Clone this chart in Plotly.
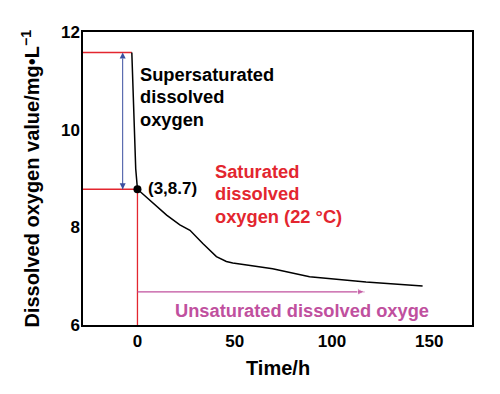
import plotly.graph_objects as go

# Data
time_h = [-2.9, -2.0, -1.5, -0.9, 0, 6.4, 15, 21.8, 27, 33.6, 40.6, 45.7, 49, 58, 69.5, 88.5, 117.5, 146.6]
do_val = [11.58, 10.5, 9.8, 9.2, 8.78, 8.56, 8.25, 8.05, 7.94, 7.67, 7.40, 7.30, 7.27, 7.22, 7.15, 6.99, 6.88, 6.80]
super_level = 11.58
sat_level = 8.78
sat_time = 0
x_range = [-28, 172]
y_range = [6, 12]
x_ticks = [0, 50, 100, 150]
y_ticks = [6, 8, 10, 12]
super_arrow_x = -7.6
unsat_arrow_y = 6.68
unsat_arrow_end = 116.7

FONT = "Liberation Sans, Arial, sans-serif"
RED = "#e3262f"
BLUE = "#3a4fa0"
MAG = "#c0509e"

fig = go.Figure()

# red reference lines
fig.add_trace(go.Scatter(x=[x_range[0], time_h[0]], y=[super_level, super_level], mode="lines",
                         line=dict(color=RED, width=1.3), hoverinfo="skip", showlegend=False))
fig.add_trace(go.Scatter(x=[x_range[0], sat_time], y=[sat_level, sat_level], mode="lines",
                         line=dict(color=RED, width=1.3), hoverinfo="skip", showlegend=False))
fig.add_trace(go.Scatter(x=[sat_time, sat_time], y=[sat_level, y_range[0]], mode="lines",
                         line=dict(color=RED, width=1.3), hoverinfo="skip", showlegend=False))

# blue double arrow
fig.add_trace(go.Scatter(x=[super_arrow_x, super_arrow_x], y=[sat_level, super_level], mode="lines+markers",
                         line=dict(color=BLUE, width=1),
                         marker=dict(symbol=["arrow-down", "arrow-up"], size=6, color=BLUE),
                         hoverinfo="skip", showlegend=False))
# magenta arrow
fig.add_trace(go.Scatter(x=[sat_time, unsat_arrow_end], y=[unsat_arrow_y, unsat_arrow_y], mode="lines+markers",
                         line=dict(color=MAG, width=1.2),
                         marker=dict(symbol=["arrow-right", "arrow-right"], size=[0, 7], color=MAG),
                         hoverinfo="skip", showlegend=False))

# curve
fig.add_trace(go.Scatter(x=time_h, y=do_val, mode="lines",
                         line=dict(color="black", width=1.5), showlegend=False))
# saturation point
fig.add_trace(go.Scatter(x=[sat_time], y=[sat_level], mode="markers",
                         marker=dict(color="black", size=8), showlegend=False))

def txt(x, y, s, color, size=18.3, anchor="left"):
    return dict(x=x, y=y, xref="x", yref="y", xanchor=anchor, yanchor="middle",
                text=s, showarrow=False,
                font=dict(family=FONT, size=size, color=color, weight="bold"))

annos = [
    txt(0.4, 11.12, "Supersaturated", "black"),
    txt(0.4, 10.67, "dissolved", "black"),
    txt(0.4, 10.20, "oxygen", "black"),
    txt(4.2, 8.80, "(3,8.7)", "black", size=17),
    txt(38.6, 9.14, "Saturated", RED),
    txt(38.6, 8.70, "dissolved", RED),
    txt(38.6, 8.22, "oxygen (22 °C)", RED),
    txt(84.4, 6.30, "Unsaturated dissolved oxyge", MAG, size=18.3, anchor="center"),
    dict(x=0.5, y=-0.147, xref="paper", yref="paper", xanchor="center", yanchor="middle",
         text="Time/h", showarrow=False,
         font=dict(family=FONT, size=20, color="black", weight="bold")),
    dict(x=-0.136, y=0.5, xref="paper", yref="paper", xanchor="center", yanchor="middle",
         text="Dissolved oxygen value/mg•L<sup>−1</sup>", showarrow=False, textangle=-90,
         font=dict(family=FONT, size=20, color="black", weight="bold")),
]

fig.update_layout(
    width=500, height=394,
    margin=dict(l=75, r=36, t=24, b=77, autoexpand=False),
    paper_bgcolor="white", plot_bgcolor="white",
    annotations=annos,
    font=dict(family=FONT, color="black"),
    xaxis=dict(range=x_range, tickvals=x_ticks, showgrid=False, zeroline=False, automargin=False,
               showline=True, linecolor="black", linewidth=1.5, mirror=True, ticks="",
               tickfont=dict(family=FONT, size=17, color="black", weight="bold")),
    yaxis=dict(range=y_range, tickvals=y_ticks, showgrid=False, zeroline=False, automargin=False,
               showline=True, linecolor="black", linewidth=1.5, mirror=True, ticks="",
               ticklabelstandoff=-2,
               tickfont=dict(family=FONT, size=17, color="black", weight="bold")),
)

fig.write_html("out.html")
